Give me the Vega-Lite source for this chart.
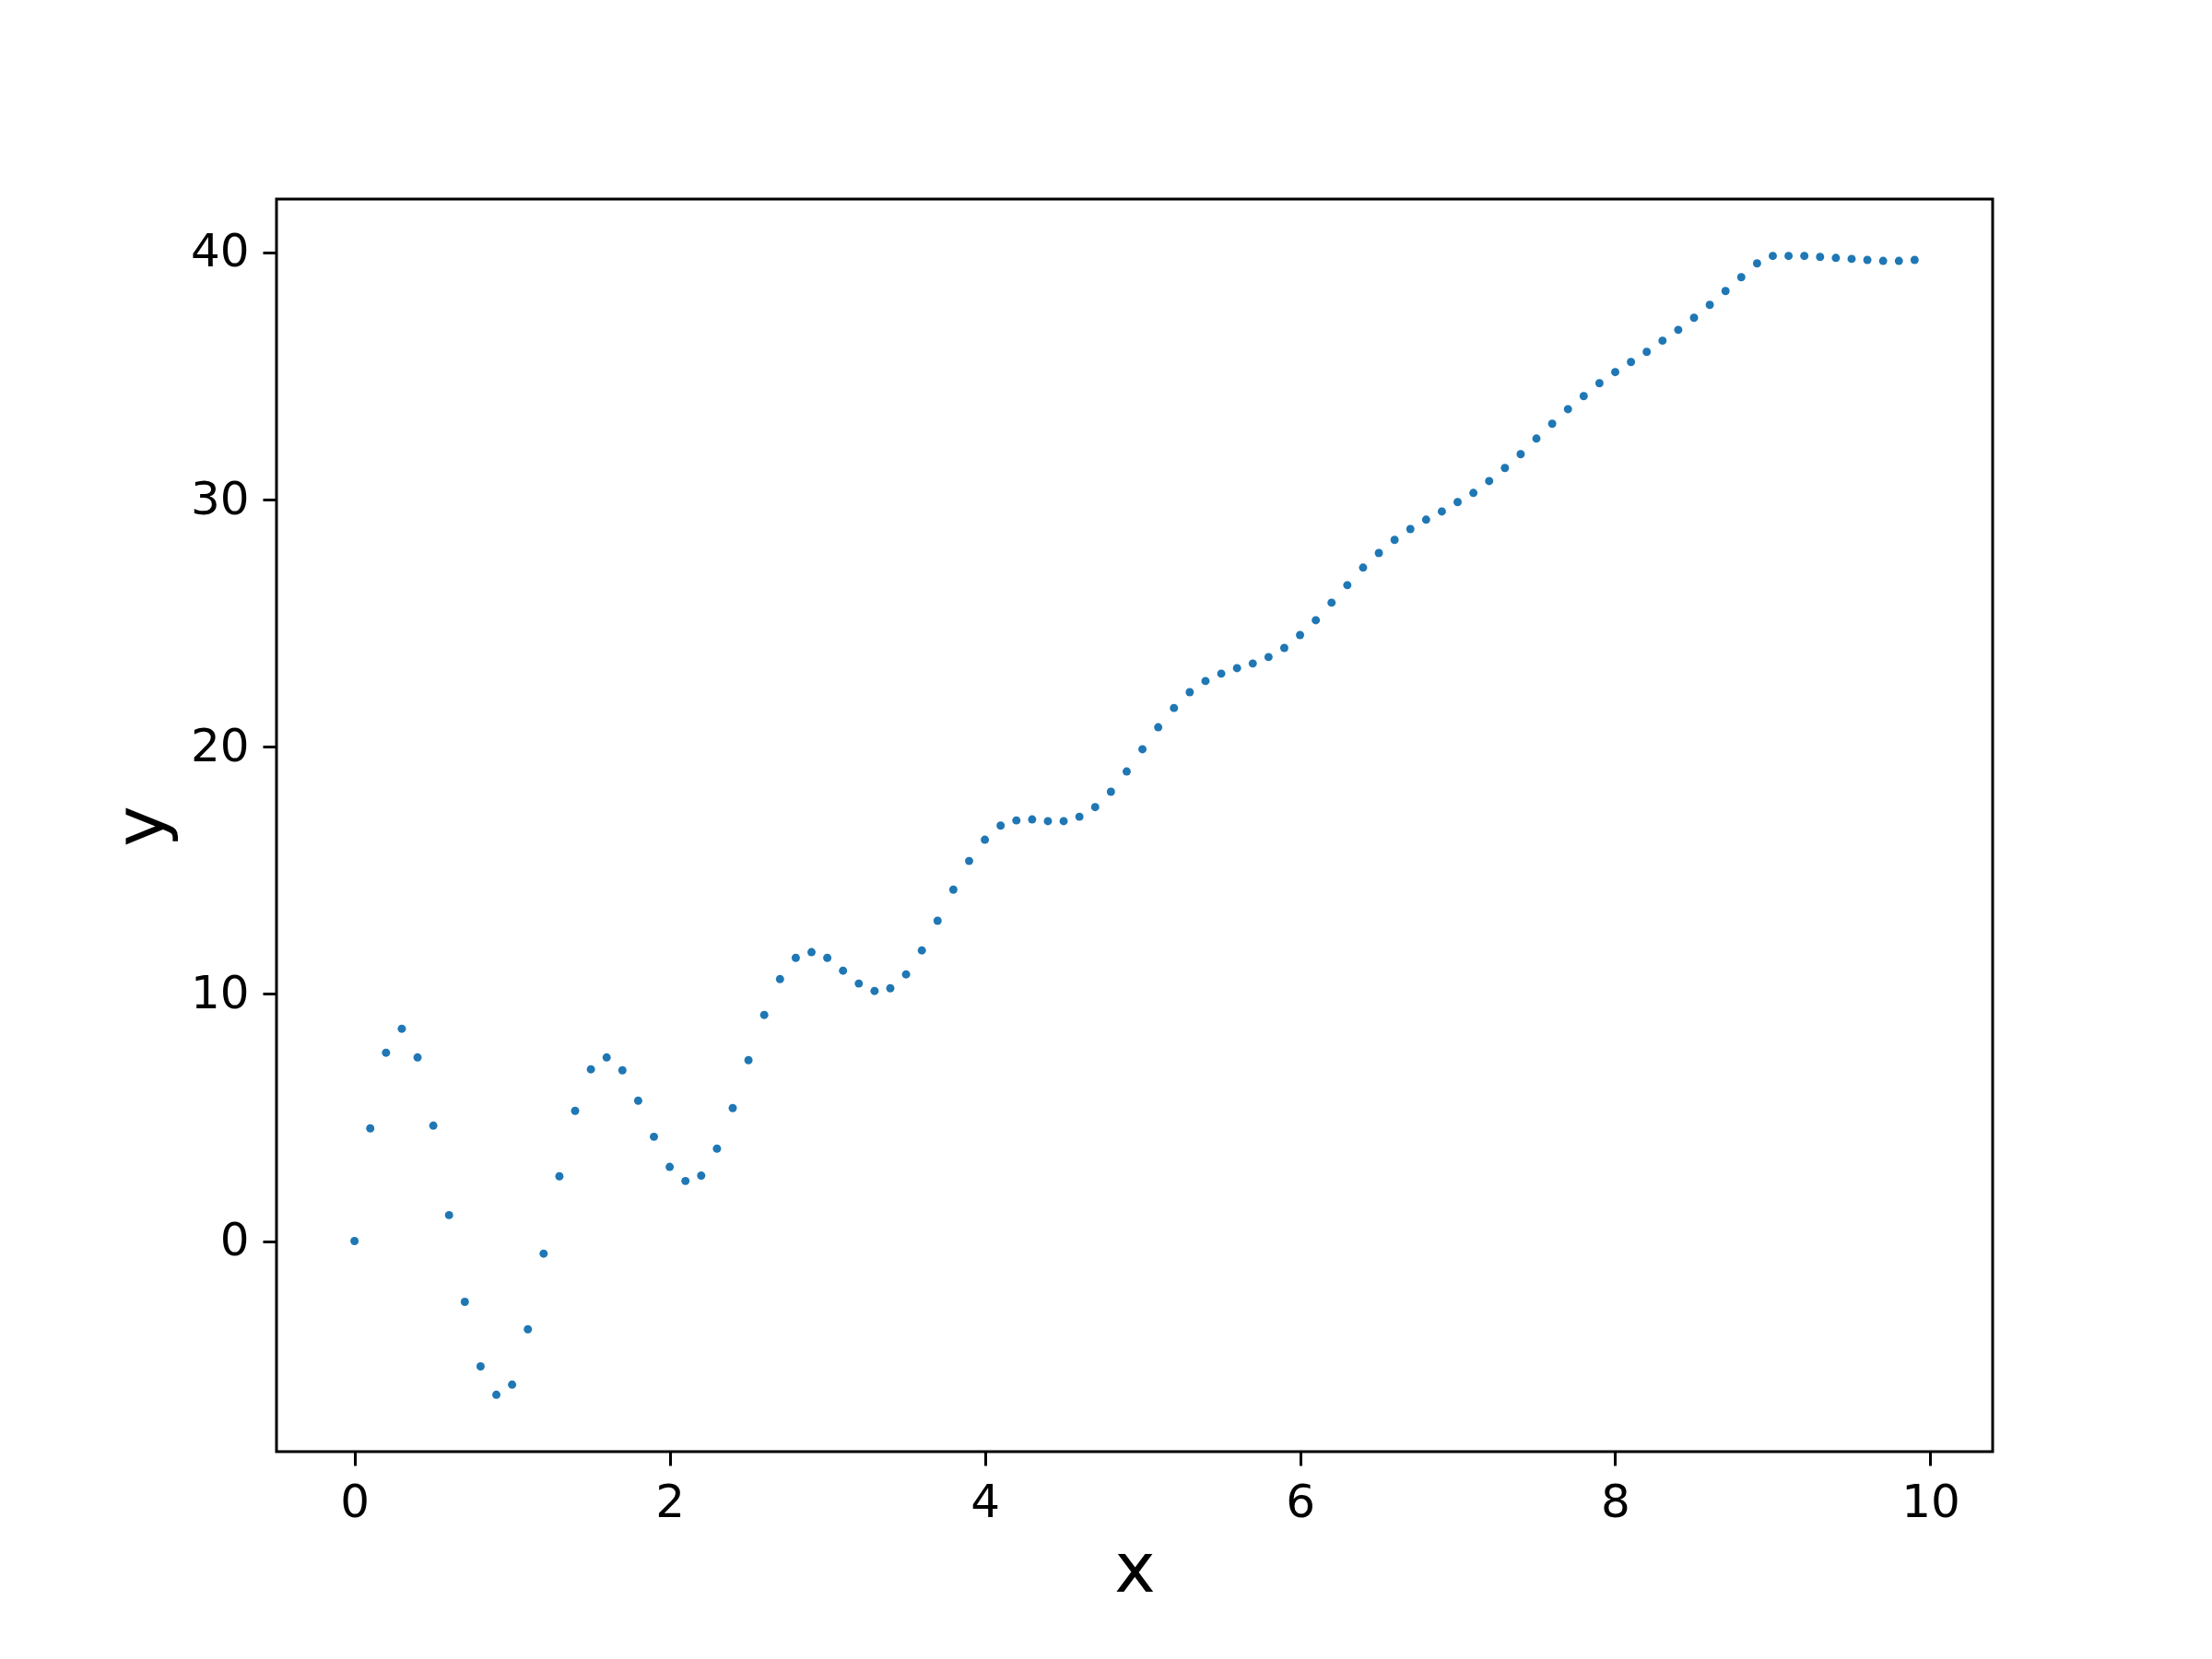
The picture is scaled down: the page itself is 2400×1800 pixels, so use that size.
{
  "$schema": "https://vega.github.io/schema/vega-lite/v6.json",
  "width": 1862,
  "height": 1359,
  "autosize": "none",
  "padding": {"left": 300, "top": 216, "right": 238, "bottom": 225},
  "background": "white",
  "config": {
    "view": {"stroke": "black", "strokeWidth": 3},
    "font": "DejaVu Sans",
    "axis": {
      "grid": false,
      "domain": false,
      "ticks": true,
      "tickColor": "black",
      "tickWidth": 3,
      "tickSize": 15,
      "labelFont": "DejaVu Sans",
      "labelFontSize": 50,
      "labelColor": "black",
      "labelPadding": 15,
      "titleFont": "DejaVu Sans",
      "titleFontSize": 75,
      "titleFontWeight": "normal",
      "titleColor": "black"
    }
  },
  "data": {
    "values": [
      {"x": 0.0, "y": 0.0}, {"x": 0.1, "y": 4.56}, {"x": 0.2, "y": 7.62}, {"x": 0.3, "y": 8.59}, {"x": 0.4, "y": 7.43},
      {"x": 0.5, "y": 4.67}, {"x": 0.6, "y": 1.05}, {"x": 0.7, "y": -2.46}, {"x": 0.8, "y": -5.07}, {"x": 0.9, "y": -6.22},
      {"x": 1.0, "y": -5.81}, {"x": 1.1, "y": -3.57}, {"x": 1.2, "y": -0.51}, {"x": 1.3, "y": 2.62}, {"x": 1.4, "y": 5.27},
      {"x": 1.5, "y": 6.95}, {"x": 1.6, "y": 7.43}, {"x": 1.7, "y": 6.91}, {"x": 1.8, "y": 5.68}, {"x": 1.9, "y": 4.22},
      {"x": 2.0, "y": 3.0}, {"x": 2.1, "y": 2.43}, {"x": 2.2, "y": 2.65}, {"x": 2.3, "y": 3.74}, {"x": 2.4, "y": 5.38},
      {"x": 2.5, "y": 7.32}, {"x": 2.6, "y": 9.15}, {"x": 2.7, "y": 10.6}, {"x": 2.8, "y": 11.46}, {"x": 2.9, "y": 11.69},
      {"x": 3.0, "y": 11.46}, {"x": 3.1, "y": 10.94}, {"x": 3.2, "y": 10.42}, {"x": 3.3, "y": 10.12}, {"x": 3.4, "y": 10.23},
      {"x": 3.5, "y": 10.79}, {"x": 3.6, "y": 11.76}, {"x": 3.7, "y": 12.96}, {"x": 3.8, "y": 14.22}, {"x": 3.9, "y": 15.38},
      {"x": 4.0, "y": 16.24}, {"x": 4.1, "y": 16.81}, {"x": 4.2, "y": 17.02}, {"x": 4.3, "y": 17.06}, {"x": 4.4, "y": 16.99},
      {"x": 4.5, "y": 16.99}, {"x": 4.6, "y": 17.17}, {"x": 4.7, "y": 17.56}, {"x": 4.8, "y": 18.18}, {"x": 4.9, "y": 19.0},
      {"x": 5.0, "y": 19.9}, {"x": 5.1, "y": 20.79}, {"x": 5.2, "y": 21.57}, {"x": 5.3, "y": 22.21}, {"x": 5.4, "y": 22.66},
      {"x": 5.5, "y": 22.96}, {"x": 5.6, "y": 23.18}, {"x": 5.7, "y": 23.37}, {"x": 5.8, "y": 23.63}, {"x": 5.9, "y": 24.0},
      {"x": 6.0, "y": 24.52}, {"x": 6.1, "y": 25.12}, {"x": 6.2, "y": 25.83}, {"x": 6.3, "y": 26.54}, {"x": 6.4, "y": 27.25},
      {"x": 6.5, "y": 27.84}, {"x": 6.6, "y": 28.37}, {"x": 6.7, "y": 28.81}, {"x": 6.8, "y": 29.19}, {"x": 6.9, "y": 29.52},
      {"x": 7.0, "y": 29.9}, {"x": 7.1, "y": 30.27}, {"x": 7.2, "y": 30.75}, {"x": 7.3, "y": 31.28}, {"x": 7.4, "y": 31.84},
      {"x": 7.5, "y": 32.47}, {"x": 7.6, "y": 33.07}, {"x": 7.7, "y": 33.66}, {"x": 7.8, "y": 34.19}, {"x": 7.9, "y": 34.71},
      {"x": 8.0, "y": 35.16}, {"x": 8.1, "y": 35.57}, {"x": 8.2, "y": 35.98}, {"x": 8.3, "y": 36.43}, {"x": 8.4, "y": 36.87},
      {"x": 8.5, "y": 37.36}, {"x": 8.6, "y": 37.88}, {"x": 8.7, "y": 38.44}, {"x": 8.8, "y": 39.0}, {"x": 8.9, "y": 39.56},
      {"x": 9.0, "y": 39.86}, {"x": 9.1, "y": 39.86}, {"x": 9.2, "y": 39.86}, {"x": 9.3, "y": 39.82}, {"x": 9.4, "y": 39.78},
      {"x": 9.5, "y": 39.74}, {"x": 9.6, "y": 39.7}, {"x": 9.7, "y": 39.66}, {"x": 9.8, "y": 39.66}, {"x": 9.9, "y": 39.7}
    ]
  },
  "mark": {"type": "point", "filled": true, "shape": "circle", "size": 80, "color": "#1f77b4", "opacity": 1, "strokeWidth": 0},
  "encoding": {
    "x": {
      "field": "x", "type": "quantitative",
      "scale": {"domain": [-0.495, 10.395], "nice": false, "zero": false},
      "axis": {"title": "x", "values": [0, 2, 4, 6, 8, 10], "format": "d", "titleY": 151, "titleBaseline": "alphabetic"}
    },
    "y": {
      "field": "y", "type": "quantitative",
      "scale": {"domain": [-8.52, 42.16], "nice": false, "zero": false},
      "axis": {"title": "y", "values": [0, 10, 20, 30, 40], "format": "d", "titleX": -124, "titleY": 680, "titleAngle": -90, "titleBaseline": "alphabetic", "titleAlign": "center"}
    }
  }
}
